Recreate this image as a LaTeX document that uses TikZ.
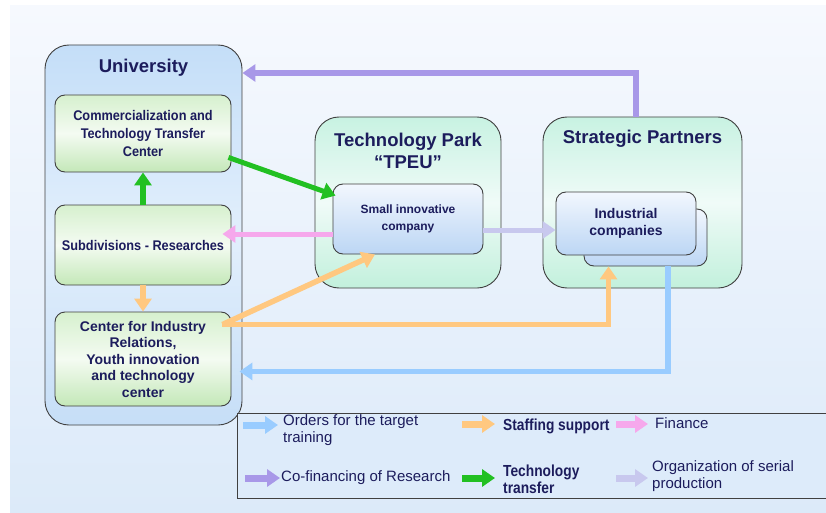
\documentclass[tikz,border=0pt]{standalone}
\usepackage{fontspec}
\setmainfont{Liberation Sans}
\newfontfamily\narrowfont[FakeStretch=0.86]{Liberation Sans}
\newfontfamily\semifont[FakeStretch=0.91]{Liberation Sans}
\usetikzlibrary{arrows.meta,calc}
\definecolor{navy}{HTML}{1C1C5C}
\definecolor{bgtop}{HTML}{F6F9FE}
\definecolor{bgbot}{HTML}{DCEAF9}
\definecolor{univtop}{HTML}{C4DEF8}
\definecolor{univmid}{HTML}{E2EFFC}
\definecolor{univbot}{HTML}{C6DEF7}
\definecolor{grtop}{HTML}{D6F0CE}
\definecolor{grmid}{HTML}{F4FBF2}
\definecolor{grbot}{HTML}{C4E8B8}
\definecolor{mttop}{HTML}{C8F2E2}
\definecolor{mtmid}{HTML}{F0FBF8}
\definecolor{mtbot}{HTML}{C2F0DC}
\definecolor{bltop}{HTML}{F2F7FE}
\definecolor{blbot}{HTML}{BCD6F4}
\definecolor{legfill}{HTML}{DDEBFA}
\definecolor{cpurple}{HTML}{A898E8}
\definecolor{cgreen}{HTML}{22C022}
\definecolor{cpink}{HTML}{F6A8EC}
\definecolor{clav}{HTML}{C8C8EE}
\definecolor{corange}{HTML}{FFC880}
\definecolor{cblue}{HTML}{99CCFF}
\begin{document}
\begin{tikzpicture}[x=1pt,y=-1pt,
  bigbox/.style={draw=black!75, line width=0.9pt, rounded corners=24pt},
  univbox/.style={bigbox, top color=univtop, bottom color=univbot, middle color=univmid},
  mintbox/.style={bigbox, top color=mttop, bottom color=mtbot, middle color=mtmid},
  greenbox/.style={draw=black!75, line width=0.9pt, rounded corners=10pt, top color=grtop, bottom color=grbot, middle color=grmid,
    text=navy, align=center, font=\semifont\bfseries\fontsize{14}{18}\selectfont},
  bluebox/.style={draw=black!75, line width=0.9pt, rounded corners=10pt, top color=bltop, bottom color=blbot,
    text=navy, align=center},
  title/.style={text=navy, align=center, font=\bfseries\fontsize{18.5}{22}\selectfont},
  flow/.style={line width=5.5pt, -{Triangle[width=17pt,length=13pt]}},
  legarrow/.style={line width=7pt, -{Triangle[width=17pt,length=13pt]}},
  legtext/.style={text=navy, anchor=west, align=left, inner sep=0pt, font=\fontsize{15}{16.5}\selectfont},
  legbold/.style={legtext, font=\narrowfont\bfseries\fontsize{16}{17}\selectfont}
]
\useasboundingbox (0,0) rectangle (826,513);
\fill[white] (0,0) rectangle (826,513);
\path[top color=bgtop, bottom color=bgbot] (10,6) rectangle (826,513);

% main boxes
\node[univbox, minimum width=197pt, minimum height=380pt] (univ) at (143.5,235) {};
\node[title] (univt) at (143.5,68) {University};
\node[greenbox, minimum width=176pt, minimum height=77pt] (ctt) at (143,133.5)
  {Commercialization and\\Technology Transfer\\Center};
\node[greenbox, minimum width=176pt, minimum height=80pt] (subd) at (143,245)
  {Subdivisions - Researches};
\node[greenbox, minimum width=176pt, minimum height=94pt, font=\bfseries\fontsize{14}{16.5}\selectfont] (cir) at (143,359)
  {Center for Industry\\Relations,\\Youth innovation\\and technology\\center};

\node[mintbox, minimum width=186pt, minimum height=171pt] (tp) at (408,202.5) {};
\node[title] (tpt) at (408,151) {Technology Park\\\textquotedblleft TPEU\textquotedblright};
\node[bluebox, minimum width=150pt, minimum height=70pt, font=\bfseries\fontsize{12}{17}\selectfont] (sic) at (408,219)
  {Small innovative\\company};

\node[mintbox, minimum width=199pt, minimum height=171pt] (sp) at (642.5,202.5) {};
\node[title] (spt) at (642.5,139) {Strategic Partners};
\node[bluebox, minimum width=123pt, minimum height=57pt] (ind2) at (645.5,237.5) {};
\node[bluebox, minimum width=140pt, minimum height=63pt, font=\bfseries\fontsize{14}{17}\selectfont] (ind) at (626,223.5)
  {Industrial\\companies};

% connectors
\coordinate (pTop) at (636,73);
\draw[flow, cpurple] (sp.north -| pTop) -- (pTop) -- (pTop -| univ.east);
\draw[flow, cgreen, line width=5pt] ([xshift=-3pt,yshift=15pt]ctt.south east) -- ([xshift=3pt,yshift=-12pt]sic.north west);
\draw[flow, cgreen] (subd.north) -- (ctt.south);
\draw[flow, corange] (subd.south) -- (cir.north);
\draw[flow, cpink, line width=5pt, shorten >=-9pt] ([yshift=-15pt]sic.west) -- ([yshift=-15pt]sic.west -| subd.east);
\draw[flow, clav, line width=5pt] ([yshift=-11pt]sic.east) -- ([yshift=-11pt]sic.east -| ind.west);
\coordinate (os) at ([xshift=-9pt,yshift=-13pt]cir.north east);
\draw[flow, corange] (os) -- ([xshift=-33pt]sic.south);
\coordinate (ob) at ([xshift=-37pt]ind2.south);
\draw[flow, corange] (os) -- (os -| ob) -- (ob);
\coordinate (bb) at ([xshift=22.5pt]ind2.south);
\coordinate (bc) at ($(bb)+(0,105)$);
\draw[flow, cblue, shorten >=-3pt] (bb) -- (bc) -- (bc -| univ.east);

% legend
\draw[draw=black!75, line width=0.9pt, fill=legfill] (237,413) rectangle (830,498);
\draw[legarrow, cblue] (243,425) -- ++(35,0);
\node[legtext] (t1) at (283,430) {Orders for the target\\training};
\draw[legarrow, corange] (462,424) -- ++(33,0);
\node[legbold] (t2) at (503,426) {Staffing support};
\draw[legarrow, cpink] (616,424) -- ++(32,0);
\node[legtext] (t3) at (655,423) {Finance};
\draw[legarrow, cpurple] (245,478) -- ++(35,0);
\node[legtext] (t4) at (281,478) {Co-financing of Research};
\draw[legarrow, cgreen] (462,478) -- ++(33,0);
\node[legbold] (t5) at (503,479) {Technology\\transfer};
\draw[legarrow, clav] (616,478) -- ++(32,0);
\node[legtext] (t6) at (652,476) {Organization of serial\\production};
\end{tikzpicture}
\end{document}
